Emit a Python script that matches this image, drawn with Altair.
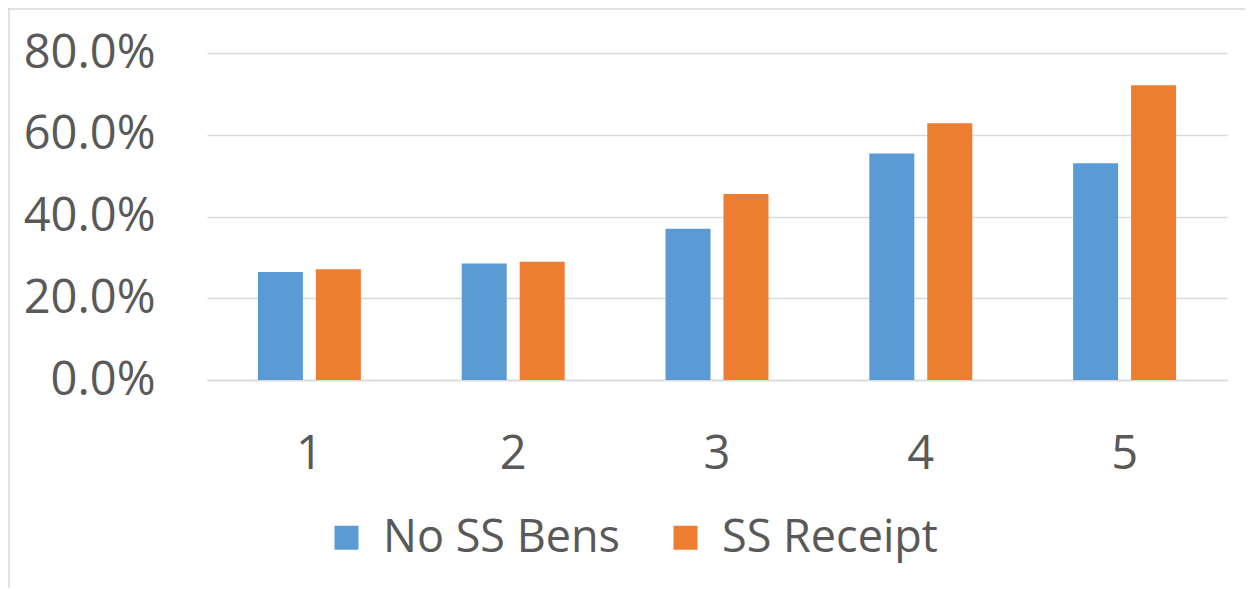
import altair as alt
import pandas as pd

categories = ["1", "2", "3", "4", "5"]
series_names = ["No SS Bens", "SS Receipt"]
no_ss_bens = [0.264, 0.285, 0.370, 0.554, 0.530]
ss_receipt = [0.271, 0.289, 0.455, 0.628, 0.721]
y_ticks = [0.0, 0.2, 0.4, 0.6, 0.8]
colors = ["#5B9BD5", "#ED7D31"]

rows = []
for c, a, b in zip(categories, no_ss_bens, ss_receipt):
    rows.append({"cat": c, "series": series_names[0], "value": a})
    rows.append({"cat": c, "series": series_names[1], "value": b})
df = pd.DataFrame(rows)

FONT = "Open Sans"
TXT = "#595959"

bars = alt.Chart(df).mark_bar(size=45).encode(
    x=alt.X("cat:N", sort=categories, title=None,
            scale=alt.Scale(paddingInner=0.495, paddingOuter=0.25),
            axis=alt.Axis(labelAngle=0, ticks=False, domain=True,
                          domainColor="#d9d9d9", domainWidth=1.5,
                          labelFontSize=47, labelColor=TXT, labelFont=FONT,
                          labelPadding=51, labelBaseline="top")),
    xOffset=alt.XOffset("series:N", sort=series_names,
                        scale=alt.Scale(paddingInner=0.224, paddingOuter=0)),
    y=alt.Y("value:Q", title=None,
            scale=alt.Scale(domain=[0, 0.8], nice=False),
            axis=alt.Axis(values=y_ticks, format=".1%", ticks=False, domain=False,
                          grid=True, gridColor="#d9d9d9", gridWidth=1.5,
                          labelFontSize=47, labelColor=TXT, labelFont=FONT,
                          labelPadding=52)),
    color=alt.Color("series:N", sort=series_names,
                    scale=alt.Scale(domain=series_names, range=colors),
                    legend=alt.Legend(title=None, orient="none", direction="horizontal",
                                      legendX=117, legendY=462,
                                      symbolType="square", symbolSize=576,
                                      symbolStrokeWidth=0, labelFontSize=45,
                                      labelFont=FONT, labelColor=TXT, labelLimit=0,
                                      labelOffset=14, columnPadding=42, padding=0)),
)

border_data = alt.Data(values=[{"k": 1}])
top_border = alt.Chart(border_data).mark_rule(color="#d9d9d9", strokeWidth=1.5).encode(
    x=alt.value(-199), x2=alt.value(1040), y=alt.value(-44))
left_border = alt.Chart(border_data).mark_rule(color="#d9d9d9", strokeWidth=1.5).encode(
    x=alt.value(-198), y=alt.value(-45), y2=alt.value(550))

chart = alt.layer(bars, top_border, left_border).properties(
    width=1020, height=327,
    autosize=alt.AutoSizeParams(type="none"),
    padding={"left": 199, "top": 45, "right": 18, "bottom": 208},
    background="white",
).configure_view(stroke=None)

chart.save("out.html", embed_options={"renderer": "svg", "actions": False})
